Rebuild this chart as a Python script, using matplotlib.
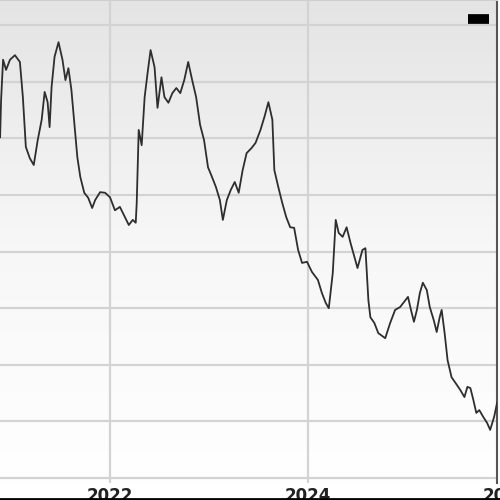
import matplotlib
matplotlib.use("Agg")
import matplotlib.pyplot as plt
import numpy as np
from matplotlib.lines import Line2D
from matplotlib.transforms import blended_transform_factory

# decimal-year positions and price values
years = [2020.89, 2020.90, 2020.92, 2020.95, 2020.99, 2021.04, 2021.09, 2021.12, 2021.15, 2021.19,
         2021.23, 2021.27, 2021.31, 2021.34, 2021.37, 2021.39, 2021.41, 2021.44, 2021.48, 2021.52,
         2021.55, 2021.58, 2021.61, 2021.64, 2021.67, 2021.70, 2021.74, 2021.78, 2021.82, 2021.85,
         2021.90, 2021.95, 2022.00, 2022.05, 2022.10, 2022.15, 2022.19, 2022.23, 2022.26, 2022.27,
         2022.29, 2022.32, 2022.35, 2022.38, 2022.41, 2022.45, 2022.48, 2022.52, 2022.55, 2022.59,
         2022.63, 2022.67, 2022.71, 2022.75, 2022.79, 2022.83, 2022.87, 2022.91, 2022.95, 2022.99,
         2023.03, 2023.07, 2023.11, 2023.14, 2023.18, 2023.22, 2023.26, 2023.30, 2023.34, 2023.38,
         2023.43, 2023.47, 2023.52, 2023.56, 2023.60, 2023.64, 2023.66, 2023.70, 2023.74, 2023.78,
         2023.82, 2023.86, 2023.90, 2023.94, 2023.99, 2024.04, 2024.10, 2024.14, 2024.18, 2024.21,
         2024.25, 2024.28, 2024.31, 2024.35, 2024.39, 2024.43, 2024.47, 2024.50, 2024.55, 2024.58,
         2024.61, 2024.63, 2024.67, 2024.71, 2024.78, 2024.83, 2024.88, 2024.93, 2024.97, 2025.01,
         2025.04, 2025.07, 2025.10, 2025.13, 2025.16, 2025.20, 2025.23, 2025.27, 2025.30, 2025.33,
         2025.35, 2025.38, 2025.41, 2025.45, 2025.49, 2025.54, 2025.58, 2025.61, 2025.64, 2025.67,
         2025.70, 2025.73, 2025.77, 2025.81, 2025.84, 2025.88, 2025.91]
prices = [70.2, 76.8, 83.9, 82.1, 83.9, 84.7, 83.5, 77.3, 68.5, 66.5,
          65.3, 69.7, 73.3, 78.2, 76.4, 72.0, 79.1, 84.4, 87.0, 83.9,
          80.3, 82.4, 78.6, 72.7, 66.7, 63.2, 60.4, 59.5, 57.7, 59.1,
          60.5, 60.4, 59.6, 57.3, 57.9, 56.1, 54.7, 55.6, 55.1, 58.6,
          71.5, 68.8, 77.3, 81.6, 85.6, 82.6, 75.4, 80.8, 77.3, 76.3,
          78.0, 78.9, 78.0, 80.3, 83.5, 80.3, 77.3, 72.4, 69.7, 64.9,
          63.2, 61.4, 59.1, 55.6, 59.1, 60.9, 62.3, 60.4, 64.4, 67.4,
          68.3, 69.2, 71.5, 73.8, 76.4, 73.3, 64.4, 61.4, 58.6, 56.1,
          54.3, 54.2, 50.3, 48.0, 48.2, 46.4, 45.0, 42.7, 40.9, 40.0,
          46.2, 55.6, 53.3, 52.6, 54.3, 51.5, 49.0, 47.1, 50.3, 50.6,
          41.4, 38.4, 37.4, 35.6, 34.7, 37.4, 39.7, 40.2, 41.1, 42.0,
          39.7, 37.6, 39.7, 42.7, 44.5, 43.2, 40.2, 37.9, 35.8, 38.4,
          39.7, 35.6, 30.8, 27.8, 26.8, 25.5, 24.3, 26.1, 25.9, 23.8,
          21.5, 22.0, 20.8, 19.7, 18.5, 20.8, 23.3]

tick_years = [2022, 2024]
tick_labels = ["2022", "2024"]
extra_tick_year = 2026
extra_tick_label = "2026"
grid_values = [10, 20, 30, 40, 50, 60, 70, 80, 90]

fig = plt.figure(figsize=(5, 5), dpi=100)
ax = fig.add_axes([0.0, 0.034, 0.994, 0.966])
x0, x1 = 2020.889, 2025.909
y0, y1 = 9.12, 94.45
ax.set_xlim(x0, x1)
ax.set_ylim(y0, y1)

# vertical background gradient (grey at top, white at bottom)
grad = np.linspace(1.0, 0.0, 256).reshape(-1, 1)
from matplotlib.colors import LinearSegmentedColormap
cmap = LinearSegmentedColormap.from_list("bg", ["#ffffff", "#f7f7f7", "#e4e4e4"])
ax.imshow(grad, aspect="auto", cmap=cmap, extent=[0, 1, 0, 1],
          transform=ax.transAxes, zorder=0, origin="upper", vmin=0, vmax=1)

ax.set_yticks(grid_values)
ax.set_xticks(tick_years)
ax.set_xticklabels(tick_labels)
ax.grid(True, color="#d3d3d3", linewidth=1.6, zorder=1)
ax.set_axisbelow(True)
ax.tick_params(axis="both", length=0)
ax.tick_params(axis="y", labelleft=False)
ax.tick_params(axis="x", pad=3, labelsize=12, labelcolor="#222222")
for lab in ax.get_xticklabels():
    lab.set_fontweight("bold")

ax.plot(years, prices, color="#2e2e2e", linewidth=1.3, zorder=3)

trans = blended_transform_factory(ax.transData, ax.transAxes)
ax.text(extra_tick_year, ax.xaxis.get_ticklabels()[0].get_position()[1], extra_tick_label,
        transform=blended_transform_factory(ax.transData, ax.transAxes),
        ha="center", va="top", fontsize=12, fontweight="bold", color="#222222",
        clip_on=False)
# place 2026 label at same vertical position as tick labels
ax.texts[-1].set_position((extra_tick_year, -0.008))

for s in ["left", "bottom"]:
    ax.spines[s].set_visible(False)
ax.spines["top"].set_color("#cfcfcf")
ax.spines["top"].set_linewidth(1.5)
ax.spines["right"].set_color("#555555")
ax.spines["right"].set_linewidth(1.5)

leg = ax.legend(handles=[Line2D([], [], color="black", linewidth=7, solid_capstyle="butt")],
                labels=[""], loc="center", bbox_to_anchor=(0.962, 0.959),
                frameon=False, handlelength=1.5, handletextpad=0, borderpad=0)

fig.add_artist(Line2D([0, 1], [0.002, 0.002], color="black", linewidth=2,
                      transform=fig.transFigure))

fig.savefig("out.png", dpi=100)
